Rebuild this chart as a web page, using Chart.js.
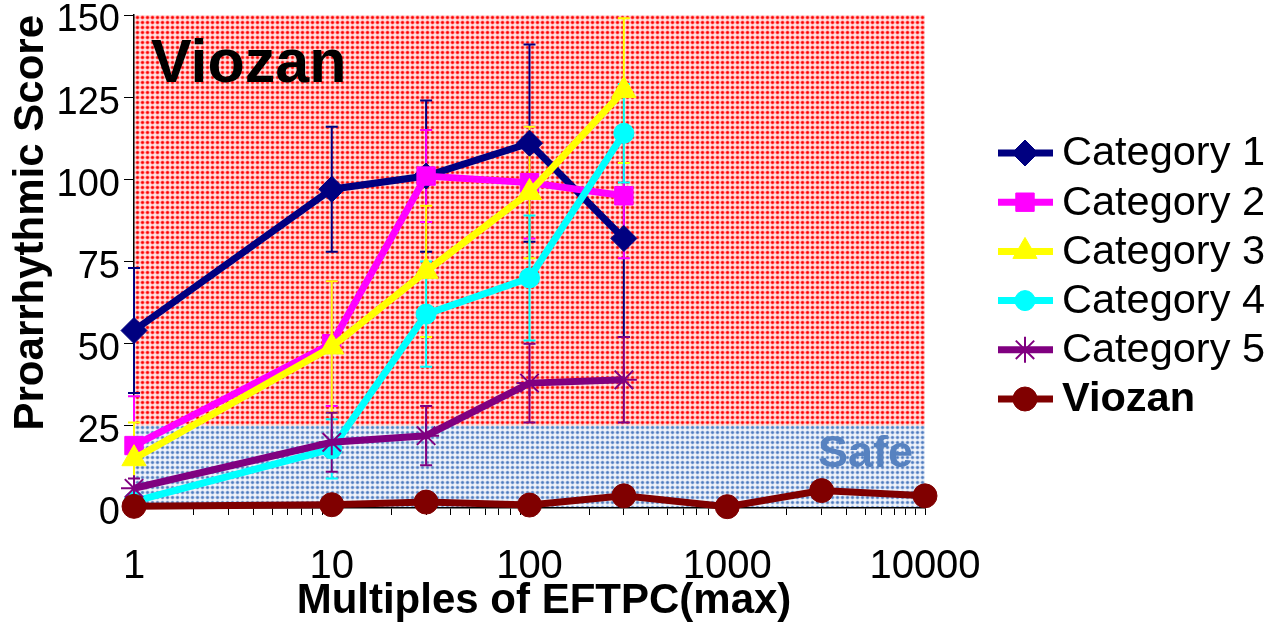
<!DOCTYPE html>
<html>
<head>
<meta charset="utf-8">
<script src="https://cdn.jsdelivr.net/npm/chart.js@4.4.0/dist/chart.umd.min.js"></script>
<style>
  html, body { margin: 0; padding: 0; background: #fff; }
  canvas { display: block; }
</style>
</head>
<body>
<canvas id="myChart" width="1284" height="624"></canvas>
<script>
// values
const xValues = [1, 10, 30, 100, 300, 1000, 3000, 10000];
const seriesNames = ['Category 1', 'Category 2', 'Category 3', 'Category 4', 'Category 5', 'Viozan'];
const cat1 = [54, 97, 101, 111, 82];
const cat1Err = [19, 19, 23, 30, 30];
const cat2 = [19, 50, 101, 99, 95];
const cat2Err = [15, 19, 14, 17, 19];
const cat3 = [15, 49, 72, 96, 127];
const cat3Err = [11, 20, 20, 20, 22];
const cat4 = [2, 18, 59, 70, 114];
const cat4Err = [1, 9, 16, 19, 15];
const cat5 = [6, 20, 22, 38, 39];
const cat5Err = [3, 9, 9, 12, 13];
const viozan = [0.5, 1, 1.8, 0.9, 3.7, 0.4, 5.3, 3.7];
const xTickLabels = ['1', '10', '100', '1000', '10000'];
const yTicks = [0, 25, 50, 75, 100, 125, 150];
const safeZone = [0, 25];
const riskZone = [25, 150];
const highlight = 'Viozan';

const FONT = '"Liberation Sans", Arial, sans-serif';
Chart.defaults.font.family = FONT;
Chart.defaults.color = '#000';

const values = [cat1, cat2, cat3, cat4, cat5, viozan];
const errors = [cat1Err, cat2Err, cat3Err, cat4Err, cat5Err, null];
const colors = ['#000080', '#ff00ff', '#ffff00', '#00ffff', '#800080', '#800000'];
const styles = ['rectRot', 'rect', 'triangle', 'circle', 'star', 'circle'];
const radii = [13, 13, 14, 10, 13, 12];

const datasets = values.map(function (vals, i) {
    return {
        label: seriesNames[i],
        data: vals.map(function (v, j) { return { x: xValues[j], y: v }; }),
        borderColor: colors[i],
        backgroundColor: colors[i],
        borderWidth: 7,
        pointStyle: styles[i],
        pointRadius: radii[i],
        pointBackgroundColor: colors[i],
        pointBorderColor: colors[i],
        pointBorderWidth: styles[i] === 'star' ? 2 : 1,
        tension: 0,
        clip: false,
        order: values.length - 1 - i
    };
});

function dotPattern(ctx, bg, halo, dot) {
    const c = document.createElement('canvas');
    c.width = 5;
    c.height = 5;
    const g = c.getContext('2d');
    g.fillStyle = bg;
    g.fillRect(0, 0, 5, 5);
    g.fillStyle = halo;
    g.beginPath(); g.arc(2.5, 2.5, 2.1, 0, Math.PI * 2); g.fill();
    g.fillStyle = dot;
    g.beginPath(); g.arc(2.5, 2.5, 1.2, 0, Math.PI * 2); g.fill();
    return ctx.createPattern(c, 'repeat');
}

const zones = {
    id: 'zones',
    beforeDraw(chart) {
        const ctx = chart.ctx, a = chart.chartArea, y = chart.scales.y;
        ctx.save();
        let top = y.getPixelForValue(riskZone[1]), bot = y.getPixelForValue(riskZone[0]);
        ctx.fillStyle = dotPattern(ctx, '#ffe4e4', '#ff7a7a', '#ff0000');
        ctx.fillRect(a.left, top, a.right - a.left, bot - top);
        top = y.getPixelForValue(safeZone[1]);
        bot = y.getPixelForValue(safeZone[0]);
        ctx.fillStyle = dotPattern(ctx, '#f2f5fb', '#aec3e4', '#4f7cbe');
        ctx.fillRect(a.left, top, a.right - a.left, bot - top);
        ctx.restore();
    },
    beforeDatasetsDraw(chart) {
        const ctx = chart.ctx, a = chart.chartArea, y = chart.scales.y;
        ctx.save();
        ctx.fillStyle = '#000';
        ctx.font = 'bold 61px ' + FONT;
        ctx.textBaseline = 'alphabetic';
        ctx.fillText('Viozan', a.left + 17, a.top + 67);
        ctx.fillStyle = '#5782c0';
        ctx.font = 'bold 45px ' + FONT;
        ctx.textAlign = 'right';
        ctx.fillText('Safe', a.right - 12, y.getPixelForValue(safeZone[0]) - 41);
        // error bars
        errors.forEach(function (err, i) {
            if (!err) return;
            const meta = chart.getDatasetMeta(i);
            ctx.strokeStyle = colors[i];
            ctx.lineWidth = 2;
            meta.data.forEach(function (pt, j) {
                const v = values[i][j];
                const y1 = y.getPixelForValue(v + err[j]);
                const y2 = y.getPixelForValue(v - err[j]);
                ctx.beginPath();
                ctx.moveTo(pt.x, y1); ctx.lineTo(pt.x, y2);
                ctx.moveTo(pt.x - 6, y1); ctx.lineTo(pt.x + 6, y1);
                ctx.moveTo(pt.x - 6, y2); ctx.lineTo(pt.x + 6, y2);
                ctx.stroke();
            });
        });
        ctx.restore();
    },
    afterDraw(chart) {
        const ctx = chart.ctx;
        ctx.save();
        ctx.fillStyle = '#000';
        ctx.font = 'bold 42px ' + FONT;
        ctx.textAlign = 'center';
        ctx.fillText('Multiples of EFTPC(max)', 544, 613);
        // legend on the right
        chart.data.datasets.forEach(function (ds, i) {
            const ly = 153 + i * 49.2;
            ctx.strokeStyle = ds.borderColor;
            ctx.lineWidth = 7;
            ctx.beginPath(); ctx.moveTo(998, ly); ctx.lineTo(1053, ly); ctx.stroke();
            ctx.fillStyle = ds.pointBackgroundColor;
            ctx.strokeStyle = ds.pointBorderColor;
            ctx.lineWidth = ds.pointBorderWidth;
            Chart.helpers.drawPoint(ctx, { pointStyle: ds.pointStyle, radius: ds.pointRadius, borderWidth: ds.pointBorderWidth, rotation: 0 }, 1025, ly);
            ctx.fillStyle = '#000';
            ctx.font = (ds.label === highlight ? 'bold ' : '') + '41.5px ' + FONT;
            ctx.textAlign = 'left';
            ctx.textBaseline = 'middle';
            ctx.fillText(ds.label, 1062, ly + 1);
        });
        ctx.restore();
    }
};

new Chart('myChart', {
    type: 'line',
    data: { datasets: datasets },
    options: {
        responsive: false,
        animation: false,
        layout: { padding: { top: 15, right: 359, left: 0, bottom: 0 } },
        plugins: { legend: { display: false }, tooltip: { enabled: false } },
        scales: {
            x: {
                type: 'logarithmic',
                min: 1,
                max: 10000,
                afterBuildTicks: function (s) {
                    const t = [];
                    const majors = xTickLabels.map(Number);
                    majors.forEach(function (base, k) {
                        if (k === majors.length - 1) { t.push({ value: base }); return; }
                        for (let m = 1; m < 10; m++) t.push({ value: base * m });
                    });
                    s.ticks = t;
                },
                afterFit: function (s) { s.height = 116; s.paddingLeft = 0; s.paddingRight = 0; },
                ticks: {
                    autoSkip: false,
                    maxRotation: 0,
                    padding: 28,
                    font: { size: 40 },
                    color: '#000',
                    callback: function (v) {
                        const i = xTickLabels.indexOf(String(v));
                        return i >= 0 ? xTickLabels[i] : '';
                    }
                },
                grid: { drawOnChartArea: false, tickLength: 7, color: '#000', lineWidth: 1 },
                border: { display: true, color: '#000', width: 1.5 }
            },
            y: {
                min: 0,
                max: 150,
                afterBuildTicks: function (s) { s.ticks = yTicks.map(function (v) { return { value: v }; }); },
                afterFit: function (s) { s.width = 134; s.paddingTop = 0; s.paddingBottom = 0; },
                ticks: { font: { size: 38 }, color: '#000', padding: 4, labelOffset: 6 },
                grid: { drawOnChartArea: false, tickLength: 10, color: '#000', lineWidth: 1 },
                border: { display: true, color: '#000', width: 1.5 },
                title: {
                    display: true,
                    text: 'Proarrhythmic Score',
                    align: 'end',
                    font: { size: 42, weight: 'bold' },
                    color: '#000',
                    padding: { top: 6, bottom: 0 }
                }
            }
        }
    },
    plugins: [zones]
});
</script>
</body>
</html>
